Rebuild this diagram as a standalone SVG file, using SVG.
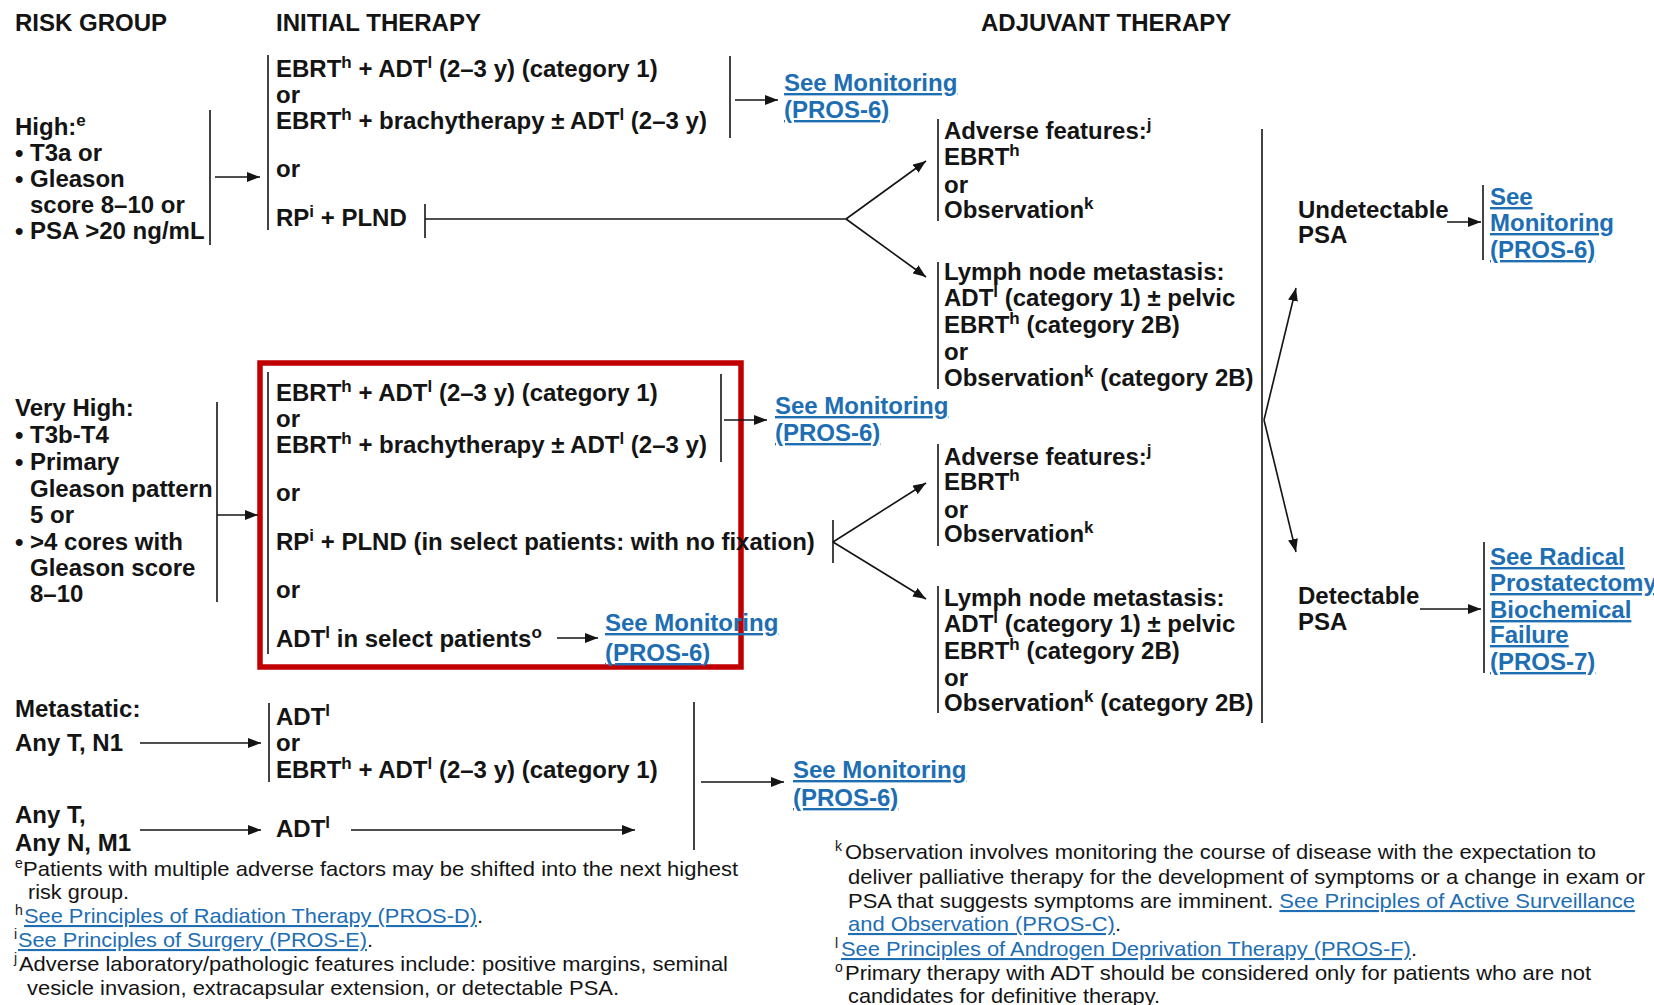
<svg xmlns="http://www.w3.org/2000/svg" width="1654" height="1005" viewBox="0 0 1654 1005">
<style>
text{font-family:"Liberation Sans",Arial,sans-serif;font-size:24px;font-weight:bold;fill:#141414}
.hd{font-size:24px;font-weight:bold}
.s{font-size:17px}
.lk{fill:#1e6eb4;text-decoration:underline}
.fn{font-family:"Liberation Sans Narrow","Liberation Sans",Arial,sans-serif;font-size:21px;font-weight:normal}
.fs{font-family:"Liberation Sans",Arial,sans-serif;font-size:14px;font-weight:normal}
.ln{stroke:#141414;stroke-width:1.6;fill:none}
.ar{stroke:#141414;stroke-width:1.6;fill:none;marker-end:url(#ah)}
.box{fill:none;stroke:#c00000;stroke-width:5.5}
</style>
<defs>
<marker id="ah" markerUnits="userSpaceOnUse" markerWidth="13" markerHeight="10" viewBox="0 0 13 10" refX="13" refY="5" orient="auto">
<path d="M0,0 L13,5 L0,10 z" fill="#141414"/>
</marker>
</defs>
<rect width="1654" height="1005" fill="#ffffff"/>

<g id="headers">
<text class="hd" x="15" y="31">RISK GROUP</text>
<text class="hd" x="276" y="31">INITIAL THERAPY</text>
<text class="hd" x="981" y="31">ADJUVANT THERAPY</text>
</g>

<g id="risk-high">
<text x="15" y="135"><tspan>High:</tspan><tspan class="s" dy="-9">e</tspan></text>
<text x="15" y="161">• T3a or</text>
<text x="15" y="187">• Gleason</text>
<text x="30" y="213">score 8–10 or</text>
<text x="15" y="239">• PSA &gt;20 ng/mL</text>
<line class="ln" x1="210" y1="110" x2="210" y2="245"/>
</g>

<g id="init-high">
<line class="ln" x1="268" y1="55" x2="268" y2="230"/>
<text x="276" y="77"><tspan>EBRT</tspan><tspan class="s" dy="-9">h</tspan><tspan dy="9"> + ADT</tspan><tspan class="s" dy="-9">l</tspan><tspan dy="9"> (2–3 y) (category 1)</tspan></text>
<text x="276" y="103">or</text>
<text x="276" y="129"><tspan>EBRT</tspan><tspan class="s" dy="-9">h</tspan><tspan dy="9"> + brachytherapy ± ADT</tspan><tspan class="s" dy="-9">l</tspan><tspan dy="9"> (2–3 y)</tspan></text>
<text x="276" y="177">or</text>
<text x="276" y="226"><tspan>RP</tspan><tspan class="s" dy="-9">i</tspan><tspan dy="9"> + PLND</tspan></text>
</g>

<g id="mon-high">
<text class="lk" x="784" y="91">See Monitoring</text>
<text class="lk" x="784" y="118">(PROS-6)</text>
</g>

<g id="adj-adverse-1">
<line class="ln" x1="938" y1="119" x2="938" y2="221"/>
<text x="944" y="139"><tspan>Adverse features:</tspan><tspan class="s" dy="-9">j</tspan></text>
<text x="944" y="165"><tspan>EBRT</tspan><tspan class="s" dy="-9">h</tspan></text>
<text x="944" y="193">or</text>
<text x="944" y="218"><tspan>Observation</tspan><tspan class="s" dy="-9">k</tspan></text>
</g>

<g id="adj-lymph-1">
<line class="ln" x1="938" y1="262" x2="938" y2="389"/>
<text x="944" y="280">Lymph node metastasis:</text>
<text x="944" y="306"><tspan>ADT</tspan><tspan class="s" dy="-9">l</tspan><tspan dy="9"> (category 1) ± pelvic</tspan></text>
<text x="944" y="333"><tspan>EBRT</tspan><tspan class="s" dy="-9">h</tspan><tspan dy="9"> (category 2B)</tspan></text>
<text x="944" y="360">or</text>
<text x="944" y="386"><tspan>Observation</tspan><tspan class="s" dy="-9">k</tspan><tspan dy="9"> (category 2B)</tspan></text>
</g>

<g id="psa-undetect">
<text x="1298" y="218">Undetectable</text>
<text x="1298" y="243">PSA</text>
</g>

<g id="mon-undetect">
<line class="ln" x1="1483" y1="185" x2="1483" y2="260"/>
<text class="lk" x="1490" y="205">See</text>
<text class="lk" x="1490" y="231">Monitoring</text>
<text class="lk" x="1490" y="258">(PROS-6)</text>
</g>

<g id="risk-vhigh">
<text x="15" y="416">Very High:</text>
<text x="15" y="443">• T3b-T4</text>
<text x="15" y="470">• Primary</text>
<text x="30" y="497">Gleason pattern</text>
<text x="30" y="523">5 or</text>
<text x="15" y="550">• &gt;4 cores with</text>
<text x="30" y="576">Gleason score</text>
<text x="30" y="602">8–10</text>
<line class="ln" x1="217" y1="402" x2="217" y2="602"/>
</g>

<g id="init-vhigh">
<rect class="box" x="260" y="363" width="481" height="304"/>
<line class="ln" x1="268" y1="372" x2="268" y2="654"/>
<text x="276" y="401"><tspan>EBRT</tspan><tspan class="s" dy="-9">h</tspan><tspan dy="9"> + ADT</tspan><tspan class="s" dy="-9">l</tspan><tspan dy="9"> (2–3 y) (category 1)</tspan></text>
<text x="276" y="427">or</text>
<text x="276" y="453"><tspan>EBRT</tspan><tspan class="s" dy="-9">h</tspan><tspan dy="9"> + brachytherapy ± ADT</tspan><tspan class="s" dy="-9">l</tspan><tspan dy="9"> (2–3 y)</tspan></text>
<text x="276" y="501">or</text>
<text x="276" y="550"><tspan>RP</tspan><tspan class="s" dy="-9">i</tspan><tspan dy="9"> + PLND (in select patients: with no fixation)</tspan></text>
<text x="276" y="598">or</text>
<text x="276" y="647"><tspan>ADT</tspan><tspan class="s" dy="-9">l</tspan><tspan dy="9"> in select patients</tspan><tspan class="s" dy="-9">o</tspan></text>
</g>

<g id="mon-vhigh">
<text class="lk" x="775" y="414">See Monitoring</text>
<text class="lk" x="775" y="441">(PROS-6)</text>
</g>

<g id="mon-vhigh-adt">
<text class="lk" x="605" y="631">See Monitoring</text>
<text class="lk" x="605" y="661">(PROS-6)</text>
</g>

<g id="adj-adverse-2">
<line class="ln" x1="938" y1="444" x2="938" y2="546"/>
<text x="944" y="465"><tspan>Adverse features:</tspan><tspan class="s" dy="-9">j</tspan></text>
<text x="944" y="490"><tspan>EBRT</tspan><tspan class="s" dy="-9">h</tspan></text>
<text x="944" y="518">or</text>
<text x="944" y="542"><tspan>Observation</tspan><tspan class="s" dy="-9">k</tspan></text>
</g>

<g id="adj-lymph-2">
<line class="ln" x1="938" y1="586" x2="938" y2="713"/>
<text x="944" y="606">Lymph node metastasis:</text>
<text x="944" y="632"><tspan>ADT</tspan><tspan class="s" dy="-9">l</tspan><tspan dy="9"> (category 1) ± pelvic</tspan></text>
<text x="944" y="659"><tspan>EBRT</tspan><tspan class="s" dy="-9">h</tspan><tspan dy="9"> (category 2B)</tspan></text>
<text x="944" y="686">or</text>
<text x="944" y="711"><tspan>Observation</tspan><tspan class="s" dy="-9">k</tspan><tspan dy="9"> (category 2B)</tspan></text>
</g>

<g id="psa-detect">
<text x="1298" y="604">Detectable</text>
<text x="1298" y="630">PSA</text>
</g>

<g id="link-bcr">
<line class="ln" x1="1484" y1="542" x2="1484" y2="673"/>
<text class="lk" x="1490" y="565">See Radical</text>
<text class="lk" x="1490" y="591">Prostatectomy</text>
<text class="lk" x="1490" y="618">Biochemical</text>
<text class="lk" x="1490" y="643">Failure</text>
<text class="lk" x="1490" y="670">(PROS-7)</text>
</g>

<g id="risk-meta-n1">
<text x="15" y="717">Metastatic:</text>
<text x="15" y="751">Any T, N1</text>
</g>

<g id="init-meta-n1">
<line class="ln" x1="269" y1="703" x2="269" y2="782"/>
<text x="276" y="725"><tspan>ADT</tspan><tspan class="s" dy="-9">l</tspan></text>
<text x="276" y="751">or</text>
<text x="276" y="778"><tspan>EBRT</tspan><tspan class="s" dy="-9">h</tspan><tspan dy="9"> + ADT</tspan><tspan class="s" dy="-9">l</tspan><tspan dy="9"> (2–3 y) (category 1)</tspan></text>
</g>

<g id="risk-meta-m1">
<text x="15" y="823">Any T,</text>
<text x="15" y="851">Any N, M1</text>
</g>

<g id="init-meta-m1">
<text x="276" y="837"><tspan>ADT</tspan><tspan class="s" dy="-9">l</tspan></text>
</g>

<g id="mon-meta">
<text class="lk" x="793" y="778">See Monitoring</text>
<text class="lk" x="793" y="806">(PROS-6)</text>
</g>

<g id="connectors">
<line class="ar" x1="215" y1="177" x2="260" y2="177"/>
<line class="ln" x1="730" y1="56" x2="730" y2="138"/>
<line class="ar" x1="735" y1="100" x2="778" y2="100"/>
<line class="ln" x1="425" y1="204" x2="425" y2="238"/>
<polyline class="ln" points="425,219 846,219"/>
<line class="ar" x1="846" y1="219" x2="926" y2="161"/>
<line class="ar" x1="846" y1="219" x2="926" y2="277"/>
<line class="ln" x1="1262" y1="129" x2="1262" y2="723"/>
<line class="ar" x1="1264" y1="420" x2="1296" y2="288"/>
<line class="ar" x1="1264" y1="420" x2="1296" y2="552"/>
<line class="ar" x1="1447" y1="222" x2="1481" y2="222"/>
<line class="ar" x1="217" y1="515" x2="258" y2="515"/>
<line class="ln" x1="721" y1="374" x2="721" y2="462"/>
<line class="ar" x1="724" y1="420" x2="767" y2="420"/>
<line class="ln" x1="833" y1="520" x2="833" y2="563"/>
<line class="ar" x1="833" y1="542" x2="926" y2="483"/>
<line class="ar" x1="833" y1="542" x2="926" y2="599"/>
<line class="ar" x1="557" y1="638" x2="598" y2="638"/>
<line class="ar" x1="1420" y1="609" x2="1481" y2="609"/>
<line class="ar" x1="140" y1="743" x2="261" y2="743"/>
<line class="ar" x1="140" y1="830" x2="261" y2="830"/>
<line class="ar" x1="351" y1="830" x2="635" y2="830"/>
<line class="ln" x1="694" y1="702" x2="694" y2="850"/>
<line class="ar" x1="701" y1="782" x2="784" y2="782"/>
</g>

<g id="footnotes">
<text class="fs" x="15" y="868">e</text>
<text class="fn" x="23" y="876" textLength="715" lengthAdjust="spacingAndGlyphs">Patients with multiple adverse factors may be shifted into the next highest</text>
<text class="fn" x="28" y="899" textLength="101" lengthAdjust="spacingAndGlyphs">risk group.</text>
<text class="fs" x="15" y="915">h</text>
<text class="fn" x="24" y="923" textLength="459" lengthAdjust="spacingAndGlyphs"><tspan class="lk">See Principles of Radiation Therapy (PROS-D)</tspan>.</text>
<text class="fs" x="14" y="939">i</text>
<text class="fn" x="18" y="947" textLength="355" lengthAdjust="spacingAndGlyphs"><tspan class="lk">See Principles of Surgery (PROS-E)</tspan>.</text>
<text class="fs" x="14" y="963">j</text>
<text class="fn" x="19" y="971" textLength="709" lengthAdjust="spacingAndGlyphs">Adverse laboratory/pathologic features include: positive margins, seminal</text>
<text class="fn" x="27" y="995" textLength="592" lengthAdjust="spacingAndGlyphs">vesicle invasion, extracapsular extension, or detectable PSA.</text>

<text class="fs" x="835" y="851">k</text>
<text class="fn" x="845" y="859" textLength="751" lengthAdjust="spacingAndGlyphs">Observation involves monitoring the course of disease with the expectation to</text>
<text class="fn" x="848" y="884" textLength="797" lengthAdjust="spacingAndGlyphs">deliver palliative therapy for the development of symptoms or a change in exam or</text>
<text class="fn" x="848" y="908" textLength="787" lengthAdjust="spacingAndGlyphs">PSA that suggests symptoms are imminent. <tspan class="lk">See Principles of Active Surveillance</tspan></text>
<text class="fn" x="848" y="931" textLength="273" lengthAdjust="spacingAndGlyphs"><tspan class="lk">and Observation (PROS-C)</tspan>.</text>
<text class="fs" x="835" y="948">l</text>
<text class="fn" x="841" y="956" textLength="576" lengthAdjust="spacingAndGlyphs"><tspan class="lk">See Principles of Androgen Deprivation Therapy (PROS-F)</tspan>.</text>
<text class="fs" x="835" y="972">o</text>
<text class="fn" x="845" y="980" textLength="746" lengthAdjust="spacingAndGlyphs">Primary therapy with ADT should be considered only for patients who are not</text>
<text class="fn" x="848" y="1003" textLength="312" lengthAdjust="spacingAndGlyphs">candidates for definitive therapy.</text>
</g>
</svg>
